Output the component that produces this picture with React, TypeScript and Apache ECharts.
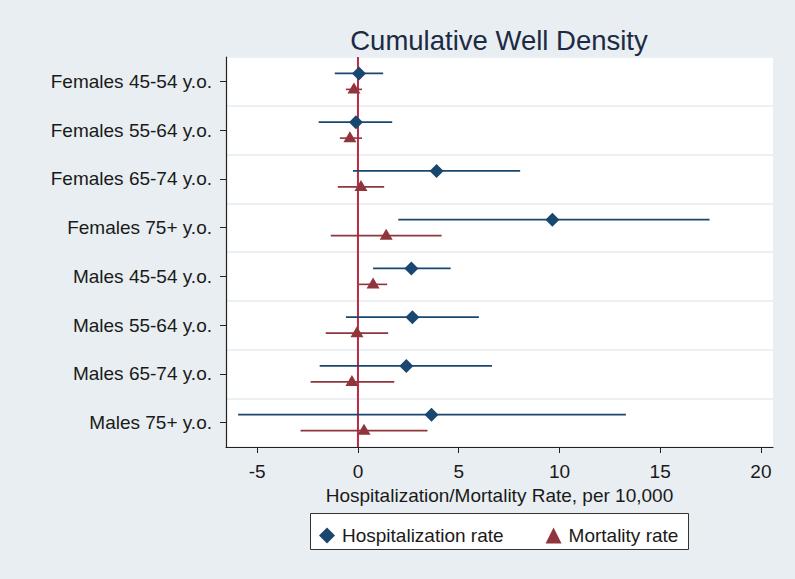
import React, { useEffect, useRef } from "react";
import * as echarts from "echarts";

const categories = [
  "Females 45-54 y.o.",
  "Females 55-64 y.o.",
  "Females 65-74 y.o.",
  "Females 75+ y.o.",
  "Males 45-54 y.o.",
  "Males 55-64 y.o.",
  "Males 65-74 y.o.",
  "Males 75+ y.o.",
];

// [lower, estimate, upper]
const hospLow = [-1.15, -1.95, -0.25, 2.0, 0.75, -0.6, -1.9, -5.95];
const hospEst = [0.05, -0.1, 3.9, 9.65, 2.65, 2.7, 2.4, 3.65];
const hospHigh = [1.25, 1.7, 8.05, 17.45, 4.6, 6.0, 6.65, 13.3];

const mortLow = [-0.6, -0.9, -1.0, -1.35, 0.05, -1.6, -2.35, -2.85];
const mortEst = [-0.2, -0.4, 0.15, 1.4, 0.75, -0.05, -0.3, 0.3];
const mortHigh = [0.2, 0.2, 1.3, 4.15, 1.45, 1.5, 1.8, 3.45];

const xTicks = [-5, 0, 5, 10, 15, 20];
const referenceLine = [0];

const NAVY = "#1a476f";
const MAROON = "#90353b";
const ZERO_LINE = "#bb2a45";
const BG = "#e8eef1";
const FONT = "Liberation Sans, Arial, sans-serif";

function makeRender(color: string, offset: number, shape: "diamond" | "triangle") {
  return (params: any, api: any) => {
    const idx = api.value(0);
    const lo = api.coord([api.value(1), idx]);
    const est = api.coord([api.value(2), idx]);
    const hi = api.coord([api.value(3), idx]);
    const y = est[1] + offset;
    const cx = est[0];
    let points: number[][];
    if (shape === "diamond") {
      const r = 7;
      points = [
        [cx, y - r],
        [cx + r, y],
        [cx, y + r],
        [cx - r, y],
      ];
    } else {
      points = [
        [cx, y - 7],
        [cx + 6.5, y + 4],
        [cx - 6.5, y + 4],
      ];
    }
    return {
      type: "group",
      children: [
        {
          type: "line",
          shape: { x1: lo[0], y1: y, x2: hi[0], y2: y },
          style: { stroke: color, lineWidth: 1.6 },
        },
        {
          type: "polygon",
          shape: { points },
          style: { fill: color },
        },
      ],
    };
  };
}

function renderZero(params: any, api: any) {
  const cs = params.coordSys;
  const p = api.coord([api.value(0), 0]);
  return {
    type: "line",
    shape: { x1: p[0], y1: cs.y, x2: p[0], y2: cs.y + cs.height },
    style: { stroke: ZERO_LINE, lineWidth: 2 },
  };
}

export default function App() {
  const ref = useRef<HTMLDivElement>(null);
  useEffect(() => {
    if (!ref.current) return;
    const chart = echarts.init(ref.current, undefined, { renderer: "svg" });
    const hospData = categories.map((_, i) => [i, hospLow[i], hospEst[i], hospHigh[i]]);
    const mortData = categories.map((_, i) => [i, mortLow[i], mortEst[i], mortHigh[i]]);
    chart.setOption({
      animation: false,
      backgroundColor: BG,
      textStyle: { fontFamily: FONT },
      title: {
        text: "Cumulative Well Density",
        left: 494,
        top: 21,
        textAlign: "center",
        textStyle: { fontFamily: FONT, fontSize: 27.5, fontWeight: "normal", color: "#1c2a44" },
      },
      graphic: [
        {
          type: "rect",
          left: 310,
          top: 513,
          shape: { width: 378, height: 36 },
          style: { fill: "#ffffff", stroke: "#333333", lineWidth: 1 },
          z: 0,
        },
      ],
      legend: {
        left: 314,
        top: 521,
        itemGap: 42,
        itemWidth: 16,
        itemHeight: 16,
        textStyle: { fontFamily: FONT, fontSize: 19, color: "#1a1a1a", padding: [0, 0, 0, 2] },
        data: [
          { name: "Hospitalization rate", icon: "diamond", itemStyle: { color: NAVY } },
          { name: "Mortality rate", icon: "triangle", itemStyle: { color: MAROON } },
        ],
        z: 5,
      },
      grid: { left: 226, right: 22, top: 57, bottom: 132, show: true, backgroundColor: "#ffffff", borderWidth: 0 },
      xAxis: {
        type: "value",
        min: -6.55,
        max: 20.6,
        name: "Hospitalization/Mortality Rate, per 10,000",
        nameLocation: "middle",
        nameGap: 35,
        nameTextStyle: { fontFamily: FONT, fontSize: 19, color: "#1a1a1a" },
        axisLine: { show: true, onZero: false, lineStyle: { color: "#222222", width: 1.2 } },
        axisTick: { show: true, customValues: xTicks, length: 6, lineStyle: { color: "#222222" } },
        axisLabel: { customValues: xTicks, fontSize: 19, color: "#1a1a1a", margin: 15, fontFamily: FONT },
        splitLine: { show: false },
      },
      yAxis: {
        type: "category",
        data: categories,
        inverse: true,
        axisLine: { show: true, onZero: false, lineStyle: { color: "#222222", width: 1.2 } },
        axisTick: { show: true, alignWithLabel: true, length: 6, lineStyle: { color: "#222222" } },
        axisLabel: { fontSize: 19, color: "#1a1a1a", margin: 14, fontFamily: FONT },
        splitLine: { show: true, lineStyle: { color: "#eaf0f3", width: 2 } },
      },
      series: [
        {
          name: "zero",
          type: "custom",
          silent: true,
          renderItem: renderZero,
          encode: { x: 0 },
          data: referenceLine.map((v) => [v]),
          z: 1,
        },
        {
          name: "Hospitalization rate",
          type: "custom",
          itemStyle: { color: NAVY },
          renderItem: makeRender(NAVY, -8, "diamond"),
          encode: { x: [1, 2, 3], y: 0 },
          data: hospData,
          z: 3,
        },
        {
          name: "Mortality rate",
          type: "custom",
          itemStyle: { color: MAROON },
          renderItem: makeRender(MAROON, 8, "triangle"),
          encode: { x: [1, 2, 3], y: 0 },
          data: mortData,
          z: 3,
        },
      ],
    });
    return () => chart.dispose();
  }, []);
  return <div ref={ref} style={{ position: "fixed", left: 0, top: 0, width: 795, height: 579 }} />;
}
